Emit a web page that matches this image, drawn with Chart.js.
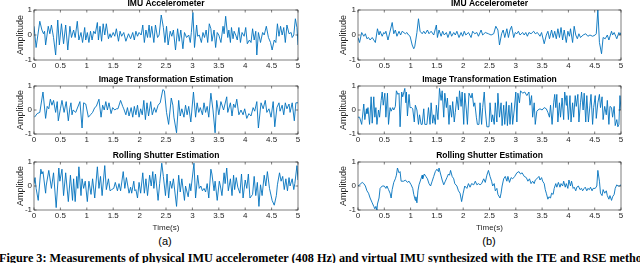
<!DOCTYPE html>
<html>
<head>
<meta charset="utf-8">
<script src="https://cdn.jsdelivr.net/npm/chart.js@4.4.1/dist/chart.umd.min.js"></script>
<style>
  body { margin: 0; width: 640px; height: 263px; overflow: hidden; background: #fff; position: relative; }
  canvas { position: absolute; }
  .lbl { position: absolute; width: 40px; text-align: center; font-family: 'Liberation Sans', Arial, sans-serif; font-size: 11px; line-height: 12px; color: #000; white-space: nowrap; }
  .cap { position: absolute; left: -1px; top: 251px; font-family: 'Liberation Serif', 'Times New Roman', serif; font-weight: bold; font-size: 12.2px; line-height: 14px; white-space: nowrap; color: #000; }
</style>
</head>
<body>
<canvas id="a1" width="320" height="74" style="left:0;top:-2px"></canvas>
<canvas id="b1" width="320" height="74" style="left:320px;top:-2px"></canvas>
<canvas id="a2" width="320" height="72" style="left:0;top:74px"></canvas>
<canvas id="b2" width="320" height="72" style="left:320px;top:74px"></canvas>
<canvas id="a3" width="320" height="83" style="left:0;top:150px"></canvas>
<canvas id="b3" width="320" height="83" style="left:320px;top:150px"></canvas>
<div class="lbl" style="left:145px;top:235px">(a)</div>
<div class="lbl" style="left:469px;top:235px">(b)</div>
<div class="cap">Figure 3: Measurements of physical IMU accelerometer (408 Hz) and virtual IMU synthesized with the ITE and RSE methods</div>
<script>
// [time (s), amplitude]
const imuA = [[0,.35],[.04,-.5],[.11,.55],[.15,.2],[.18,.05],[.2,.15],[.22,-.4],[.27,.35],[.3,.05],[.33,.4],[.37,-.1],[.41,-.8],[.45,.6],[.48,-.4],[.52,.45],[.56,-.35],[.6,.4],[.64,-.6],[.68,.35],[.71,-.1],[.75,.2],[.78,-.1],[.82,.55],[.85,-.2],[.89,.1],[.92,-.3],[.96,.3],[.98,-.2],[1.01,.1],[1.04,-.3],[1.07,.15],[1.1,-.2],[1.13,.15],[1.16,.05],[1.2,.5],[1.22,-.2],[1.25,.35],[1.28,-.25],[1.31,.45],[1.34,0],[1.37,.45],[1.41,-.15],[1.44,.05],[1.46,-.1],[1.5,.1],[1.53,-.05],[1.56,.25],[1.6,-.25],[1.63,.15],[1.66,-.05],[1.7,.1],[1.74,-.25],[1.79,.05],[1.83,-.15],[1.87,.1],[1.9,-.2],[1.93,.15],[1.96,-.05],[1.99,.1],[2.03,0],[2.06,.4],[2.09,-.3],[2.12,.2],[2.15,-.1],[2.18,.4],[2.2,-.1],[2.23,.35],[2.27,-.3],[2.3,.4],[2.34,-.1],[2.37,0],[2.41,.8],[2.45,.3],[2.48,-.3],[2.51,.35],[2.54,-.4],[2.58,.15],[2.61,-.05],[2.64,.2],[2.68,-.6],[2.72,.25],[2.75,-.25],[2.78,.2],[2.82,-.55],[2.85,.1],[2.89,-.1],[2.93,0],[2.96,-.3],[2.98,.1],[3.01,.9],[3.04,-.5],[3.08,.4],[3.1,-.05],[3.13,0],[3.17,-.3],[3.2,.1],[3.23,-.1],[3.26,.2],[3.29,-.3],[3.32,.45],[3.35,.25],[3.37,-.25],[3.41,.2],[3.44,-.5],[3.47,.1],[3.5,0],[3.54,-.3],[3.58,.35],[3.6,.05],[3.63,.75],[3.67,-.1],[3.69,.2],[3.72,-.3],[3.74,.3],[3.77,-.15],[3.79,.15],[3.82,0],[3.85,-.2],[3.88,.3],[3.91,-.3],[3.94,.1],[3.98,-.05],[4.01,.3],[4.04,-.35],[4.08,-.2],[4.11,-.3],[4.14,.25],[4.17,-.2],[4.2,.15],[4.22,-.8],[4.25,.1],[4.29,-.3],[4.33,.1],[4.36,0],[4.4,.35],[4.44,-.1],[4.48,-.3],[4.51,-.6],[4.55,-.2],[4.58,-.3],[4.61,.45],[4.64,-.05],[4.67,.35],[4.7,0],[4.73,.3],[4.76,-.3],[4.79,.4],[4.83,.05],[4.87,.1],[4.89,-.1],[4.92,0],[4.95,.65],[4.98,.3],[5,-.4]];

const iteA = [[.01,-.3],[.06,-.15],[.11,-.1],[.17,.75],[.22,-.35],[.25,.15],[.28,.05],[.31,.45],[.34,.2],[.37,.4],[.41,-.1],[.44,.35],[.46,-.45],[.5,.05],[.53,.4],[.57,-.1],[.61,.35],[.65,-.45],[.68,.1],[.7,.3],[.72,-.2],[.74,0],[.79,-.1],[.87,.35],[.91,-.75],[.94,.3],[.98,.25],[1.03,-.3],[1.07,-.2],[1.11,-.1],[1.15,.1],[1.18,.15],[1.23,.45],[1.27,-.3],[1.3,.2],[1.33,0],[1.36,.35],[1.39,0],[1.42,.3],[1.46,-.15],[1.49,.1],[1.53,0],[1.56,.05],[1.59,.05],[1.64,.4],[1.68,.15],[1.7,.05],[1.74,-.2],[1.77,.1],[1.8,-.25],[1.84,.1],[1.87,-.3],[1.9,.15],[1.93,-.2],[1.96,.2],[1.99,-.3],[2.02,.05],[2.05,-.2],[2.08,.4],[2.11,-.4],[2.14,.3],[2.17,-.25],[2.21,.35],[2.24,-.2],[2.28,.1],[2.31,-.1],[2.35,.2],[2.39,.3],[2.44,.85],[2.47,.8],[2.51,-.1],[2.55,-.6],[2.6,.5],[2.63,.2],[2.65,-.3],[2.7,-.95],[2.74,.4],[2.77,-.25],[2.8,.05],[2.84,-.3],[2.87,.2],[2.9,-.2],[2.93,.15],[2.97,-.5],[3.02,.75],[3.06,-.3],[3.09,.3],[3.12,-.1],[3.15,.1],[3.19,-.2],[3.22,.3],[3.25,-.1],[3.28,.15],[3.31,-.3],[3.35,.7],[3.39,0],[3.43,-.95],[3.46,.4],[3.5,-.2],[3.54,.35],[3.59,0],[3.65,.55],[3.67,-.1],[3.72,.3],[3.75,-.25],[3.78,.25],[3.81,.1],[3.84,.45],[3.88,-.2],[3.92,0],[3.96,-.2],[3.99,.05],[4.03,-.35],[4.07,-.15],[4.11,-.25],[4.15,.1],[4.18,-.05],[4.22,.35],[4.25,-.75],[4.3,.3],[4.34,.05],[4.38,.4],[4.41,-.1],[4.45,.05],[4.49,-.3],[4.53,.35],[4.56,-.7],[4.6,.1],[4.64,.3],[4.66,-.05],[4.7,.2],[4.73,-.2],[4.76,.3],[4.79,.05],[4.83,.25],[4.85,-.1],[4.89,.3],[4.93,-.45],[4.96,.3],[5,.3]];

const rseA = [[0,.1],[.02,.35],[.04,-.1],[.08,-.6],[.13,.7],[.15,.5],[.17,.6],[.22,-.3],[.23,0],[.28,.65],[.33,-.1],[.37,.55],[.42,-.9],[.47,.75],[.49,.2],[.53,.7],[.56,-.4],[.6,.55],[.65,-.65],[.69,.45],[.73,-.6],[.75,.3],[.78,-.65],[.81,.4],[.83,-.1],[.85,.8],[.89,-.4],[.91,.3],[.94,-.1],[.97,.2],[1.01,-.65],[1.04,.2],[1.08,-.35],[1.11,.3],[1.15,-.5],[1.2,.8],[1.23,-.1],[1.26,.4],[1.29,-.4],[1.34,.85],[1.37,-.15],[1.41,.3],[1.44,-.2],[1.47,-.15],[1.51,-.1],[1.54,.15],[1.58,-.2],[1.61,.1],[1.64,-.2],[1.69,.6],[1.72,-.1],[1.75,.35],[1.8,-.3],[1.83,-.05],[1.85,-.3],[1.89,.2],[1.91,-.2],[1.93,-.15],[1.96,-.5],[1.99,.15],[2.02,-.3],[2.06,.55],[2.09,-.3],[2.12,.3],[2.15,-.4],[2.19,.45],[2.22,0],[2.25,.6],[2.27,-.1],[2.3,.5],[2.35,-.6],[2.38,.1],[2.42,.95],[2.45,.4],[2.49,-.4],[2.52,.5],[2.55,-.5],[2.58,.2],[2.61,-.1],[2.64,.3],[2.7,-.85],[2.74,.45],[2.77,-.25],[2.8,.3],[2.85,-.6],[2.87,0],[2.92,-.45],[2.95,.1],[2.97,-.2],[3.03,.95],[3.06,-.5],[3.1,.45],[3.13,-.1],[3.16,0],[3.19,-.2],[3.22,-.1],[3.25,-.25],[3.28,.1],[3.31,-.5],[3.35,.7],[3.37,.5],[3.41,-.2],[3.43,.2],[3.47,-.6],[3.51,.2],[3.53,0],[3.56,-.4],[3.6,.55],[3.62,.1],[3.65,.75],[3.68,-.2],[3.72,.3],[3.75,-.4],[3.78,.45],[3.8,-.15],[3.83,.35],[3.86,-.05],[3.9,-.3],[3.93,.5],[3.96,-.5],[4,.25],[4.03,-.1],[4.06,.5],[4.09,-.5],[4.14,-.35],[4.17,.4],[4.2,-.4],[4.23,.15],[4.26,-.85],[4.29,.05],[4.32,-.4],[4.36,.45],[4.39,0],[4.42,.6],[4.46,-.1],[4.51,-.6],[4.55,-.8],[4.59,-.4],[4.61,.05],[4.65,.55],[4.68,.2],[4.71,.4],[4.74,-.15],[4.77,.3],[4.8,-.2],[4.83,.35],[4.85,0],[4.89,.3],[4.92,-.15],[4.94,.1],[4.98,.85],[5,.25]];

const imuB = [[0,-.1],[.03,-.3],[.07,.1],[.11,-.05],[.14,.05],[.17,-.15],[.2,-.1],[.23,-.2],[.27,-.1],[.33,-.3],[.37,.25],[.4,0],[.42,.15],[.46,-.05],[.49,.1],[.51,.05],[.53,.15],[.57,-.2],[.65,.5],[.68,.05],[.71,.2],[.74,-.05],[.78,.15],[.81,0],[.84,.15],[.9,.05],[.93,.1],[.96,0],[.99,-.05],[1.03,-.4],[1.06,-.55],[1.08,-.45],[1.12,.1],[1.15,.65],[1.18,.15],[1.22,.05],[1.25,.15],[1.28,.05],[1.32,.2],[1.35,.05],[1.39,.15],[1.44,0],[1.49,.4],[1.51,-.1],[1.54,.2],[1.58,-.05],[1.61,.15],[1.64,0],[1.68,.1],[1.71,-.1],[1.75,.15],[1.78,-.05],[1.82,.1],[1.85,0],[1.88,.15],[1.92,-.1],[1.96,.1],[1.99,-.05],[2.02,.15],[2.05,0],[2.1,.1],[2.15,-.1],[2.18,.15],[2.22,.05],[2.26,.1],[2.29,-.05],[2.34,.2],[2.37,0],[2.42,.1],[2.48,.05],[2.53,0],[2.58,.05],[2.62,.35],[2.66,.2],[2.69,-.4],[2.73,.05],[2.76,.2],[2.79,-.1],[2.83,.25],[2.86,-.1],[2.89,.2],[2.92,.35],[2.96,-.1],[2.99,.1],[3.02,.05],[3.05,.15],[3.08,0],[3.13,.1],[3.16,0],[3.19,.1],[3.22,-.05],[3.25,.1],[3.29,.05],[3.34,.15],[3.37,.05],[3.41,.1],[3.46,-.05],[3.49,.1],[3.54,-.35],[3.58,0],[3.61,.15],[3.64,-.15],[3.68,.2],[3.71,-.1],[3.74,.15],[3.77,-.15],[3.8,.25],[3.83,-.1],[3.86,.3],[3.89,-.2],[3.92,.2],[3.96,-.3],[3.99,.15],[4.02,-.05],[4.04,.25],[4.08,-.3],[4.11,.35],[4.14,0],[4.17,-.15],[4.2,.05],[4.23,-.1],[4.28,0],[4.33,.05],[4.37,-.05],[4.41,0],[4.46,-.05],[4.51,0],[4.53,.05],[4.56,1],[4.59,-.3],[4.63,-.75],[4.66,-.1],[4.7,-.15],[4.74,0],[4.77,-.2],[4.82,.15],[4.84,0],[4.87,.1],[4.9,-.05],[4.92,-.15],[4.96,.1],[4.98,0],[5,.1]];

const iteB = [[0,-.3],[.03,-.3],[.07,-.6],[.11,.25],[.13,-.4],[.16,.05],[.17,-.15],[.19,.1],[.22,-.6],[.25,.55],[.27,-.55],[.3,.55],[.32,-.3],[.34,.1],[.36,-.6],[.39,0],[.41,-.3],[.44,.4],[.46,.75],[.48,.2],[.51,.7],[.53,-.3],[.56,.7],[.58,-.6],[.61,.1],[.63,-.05],[.66,.1],[.68,0],[.71,.15],[.73,.8],[.76,.65],[.78,.7],[.8,-.7],[.83,.75],[.85,.55],[.89,.9],[.91,.3],[.92,.75],[.94,-.25],[.97,.65],[.99,.1],[1.02,.1],[1.04,.05],[1.07,-.5],[1.09,.2],[1.12,0],[1.15,-.6],[1.17,-.2],[1.2,-.6],[1.22,-.6],[1.25,.05],[1.27,-.6],[1.31,-.6],[1.34,.1],[1.37,-.6],[1.39,.3],[1.42,-.55],[1.44,-.2],[1.47,-.6],[1.49,.2],[1.52,-.4],[1.55,.9],[1.58,.4],[1.6,.8],[1.63,-.3],[1.65,.7],[1.68,.1],[1.7,.5],[1.73,-.6],[1.75,.2],[1.78,-.3],[1.8,.35],[1.83,-.5],[1.85,-.1],[1.88,.55],[1.91,0],[1.93,.8],[1.96,.15],[1.98,.75],[2.01,-.6],[2.03,.7],[2.06,0],[2.08,-.6],[2.11,.7],[2.15,.5],[2.17,.7],[2.2,.15],[2.22,.3],[2.25,-.3],[2.27,-.6],[2.3,-.6],[2.32,.3],[2.35,-.6],[2.37,.1],[2.4,.75],[2.42,0],[2.45,-.7],[2.49,-.7],[2.51,.3],[2.54,-.5],[2.56,-.2],[2.59,-.6],[2.61,.3],[2.64,-.5],[2.66,.7],[2.69,-.3],[2.72,.3],[2.74,-.65],[2.77,.2],[2.79,-.6],[2.82,.35],[2.84,-.65],[2.87,.2],[2.89,-.6],[2.92,.3],[2.94,-.6],[2.97,0],[3,.75],[3.02,-.5],[3.04,.7],[3.07,.3],[3.09,.8],[3.13,.7],[3.17,.75],[3.21,.6],[3.25,.75],[3.27,.2],[3.3,.6],[3.32,-.3],[3.35,.3],[3.37,-.6],[3.4,-.05],[3.42,0],[3.46,.05],[3.5,0],[3.54,.1],[3.58,.05],[3.61,-.1],[3.64,-.3],[3.66,.2],[3.69,-.6],[3.72,.3],[3.74,.65],[3.76,.1],[3.78,.65],[3.8,-.5],[3.83,.3],[3.85,-.3],[3.88,.5],[3.91,-.4],[3.93,.75],[3.96,.2],[3.97,.6],[4,-.4],[4.03,.6],[4.05,-.5],[4.08,.3],[4.1,-.3],[4.13,.6],[4.15,.15],[4.18,.65],[4.2,-.5],[4.23,.3],[4.25,.75],[4.28,0],[4.3,.7],[4.33,-.5],[4.35,.6],[4.38,-.5],[4.41,.2],[4.43,.65],[4.46,-.6],[4.48,.1],[4.51,.6],[4.53,-.35],[4.56,.3],[4.59,.65],[4.61,.1],[4.64,.55],[4.66,-.4],[4.69,.15],[4.72,-.2],[4.74,.4],[4.77,-.6],[4.79,.15],[4.82,.1],[4.84,-.3],[4.87,.15],[4.89,-.65],[4.92,-.4],[4.94,-.7],[4.96,-.6],[4.98,.6],[5,0]];

const rseB = [[0,0],[.03,.05],[.08,.15],[.11,.1],[.14,0],[.17,-.2],[.2,-.3],[.23,-.5],[.27,-.7],[.3,-.85],[.32,-.95],[.34,-.85],[.36,-1],[.37,-.75],[.4,-.5],[.42,-.1],[.46,0],[.5,0],[.53,-.1],[.55,0],[.58,-.15],[.61,-.3],[.63,-.5],[.65,-.15],[.68,.15],[.71,.3],[.73,.45],[.75,.75],[.78,.55],[.8,.6],[.82,.2],[.87,.2],[.9,.25],[.94,.15],[.97,.2],[1.01,.05],[1.04,-.1],[1.06,-.35],[1.09,-.6],[1.1,-.45],[1.12,-.7],[1.14,-.2],[1.16,.05],[1.19,.25],[1.22,.45],[1.23,.3],[1.26,.5],[1.29,.4],[1.32,.3],[1.35,.1],[1.38,0],[1.41,.2],[1.44,.4],[1.47,.6],[1.5,.7],[1.53,.6],[1.54,.75],[1.57,.5],[1.6,.25],[1.63,.05],[1.66,.2],[1.69,.35],[1.72,.5],[1.74,.45],[1.76,.65],[1.79,.4],[1.82,.3],[1.84,.1],[1.88,0],[1.91,-.2],[1.94,-.3],[1.97,-.65],[2,-.3],[2.03,0],[2.07,-.1],[2.1,.1],[2.13,-.05],[2.16,.1],[2.2,.05],[2.23,.2],[2.26,.05],[2.29,.1],[2.32,.05],[2.35,.1],[2.39,.3],[2.42,.15],[2.45,.45],[2.48,.65],[2.51,.4],[2.54,.2],[2.56,0],[2.59,.1],[2.61,-.2],[2.64,-.1],[2.66,-.35],[2.7,-.5],[2.72,-.3],[2.74,0],[2.77,.3],[2.8,.4],[2.83,.2],[2.85,.4],[2.88,.15],[2.91,.35],[2.94,.3],[2.98,.4],[3.02,.55],[3.06,.6],[3.09,.5],[3.12,.55],[3.16,.4],[3.2,.35],[3.23,.2],[3.26,.3],[3.29,.1],[3.32,.2],[3.35,.1],[3.37,.25],[3.4,.3],[3.44,.4],[3.46,.25],[3.49,.35],[3.51,.2],[3.54,.1],[3.56,-.15],[3.58,-.3],[3.61,-.55],[3.63,-.45],[3.66,-.5],[3.68,-.3],[3.71,-.35],[3.73,-.1],[3.76,.1],[3.78,-.05],[3.81,.15],[3.84,-.05],[3.86,.1],[3.89,0],[3.91,.2],[3.94,-.05],[3.96,.1],[3.99,-.1],[4.01,.25],[4.04,0],[4.06,.2],[4.09,-.1],[4.11,-.05],[4.14,-.2],[4.16,-.05],[4.19,0],[4.22,-.15],[4.25,-.1],[4.27,-.2],[4.3,-.1],[4.32,-.05],[4.35,-.2],[4.37,-.1],[4.4,-.15],[4.42,-.05],[4.45,-.2],[4.47,-.1],[4.51,-.1],[4.54,0],[4.56,.65],[4.59,.2],[4.61,-.3],[4.64,-.4],[4.66,-.15],[4.69,-.3],[4.72,-.2],[4.74,-.4],[4.77,-.55],[4.79,-.4],[4.82,-.6],[4.84,-.45],[4.87,-.35],[4.89,-.1],[4.92,.05],[4.94,0],[4.97,0],[5,.05]];

Chart.defaults.font.family = "'Liberation Sans', Arial, sans-serif";
Chart.defaults.color = '#262626';

// axes box with inward ticks, matlab style
const boxPlugin = {
  id: 'box',
  afterDraw(chart) {
    const { ctx, chartArea: a, scales } = chart;
    ctx.save();
    ctx.strokeStyle = '#262626';
    ctx.lineWidth = 0.6;
    ctx.strokeRect(a.left, a.top, a.right - a.left, a.bottom - a.top);
    ctx.beginPath();
    scales.x.ticks.forEach(tk => {
      const p = scales.x.getPixelForValue(tk.value);
      ctx.moveTo(p, a.bottom); ctx.lineTo(p, a.bottom - 2.5);
      ctx.moveTo(p, a.top); ctx.lineTo(p, a.top + 2.5);
    });
    scales.y.ticks.forEach(tk => {
      const p = scales.y.getPixelForValue(tk.value);
      ctx.moveTo(a.left, p); ctx.lineTo(a.left + 2.5, p);
      ctx.moveTo(a.right, p); ctx.lineTo(a.right - 2.5, p);
    });
    ctx.stroke();
    ctx.restore();
  }
};

function makeChart(id, title, series, right, bottom) {
  const ctx = document.getElementById(id);
  return new Chart(ctx, {
    type: 'line',
    data: {
      datasets: [{
        data: series.map(p => ({ x: p[0], y: p[1] })),
        borderColor: '#0072BD',
        borderWidth: 0.9,
        pointRadius: 0,
        tension: 0
      }]
    },
    options: {
      responsive: false,
      animation: false,
      layout: { padding: { left: right ? 15 : 12, right: right ? 19 : 22, top: 0, bottom: 0 } },
      plugins: {
        legend: { display: false },
        tooltip: { enabled: false },
        title: {
          display: true,
          text: title,
          fullSize: false,
          color: '#000',
          font: { size: 8.5, weight: 'bold', lineHeight: 1 },
          padding: { top: 1.5, bottom: 2 }
        }
      },
      scales: {
        x: {
          type: 'linear',
          min: 0, max: 5,
          ticks: { stepSize: 0.5, font: { size: 8 }, padding: 1, maxRotation: 0, autoSkip: false, callback: v => String(v) },
          grid: { display: false, drawTicks: false },
          border: { display: false },
          title: { display: bottom, text: 'Time(s)', font: { size: 8 }, padding: { top: 0, bottom: 0 } },
          afterFit: s => { s.height = bottom ? 23 : 12; }
        },
        y: {
          min: -1, max: 1,
          ticks: { stepSize: 1, font: { size: 8 }, padding: 2 },
          grid: { display: false, drawTicks: false },
          border: { display: false },
          title: { display: true, text: 'Amplitude', font: { size: 9 }, padding: { top: 3, bottom: 0 } },
          afterFit: s => { s.width = right ? 23 : 22; }
        }
      }
    },
    plugins: [boxPlugin]
  });
}

makeChart('a1', 'IMU Accelerometer', imuA, false, false);
makeChart('b1', 'IMU Accelerometer', imuB, true, false);
makeChart('a2', 'Image Transformation Estimation', iteA, false, false);
makeChart('b2', 'Image Transformation Estimation', iteB, true, false);
makeChart('a3', 'Rolling Shutter Estimation', rseA, false, true);
makeChart('b3', 'Rolling Shutter Estimation', rseB, true, true);
</script>
</body>
</html>
